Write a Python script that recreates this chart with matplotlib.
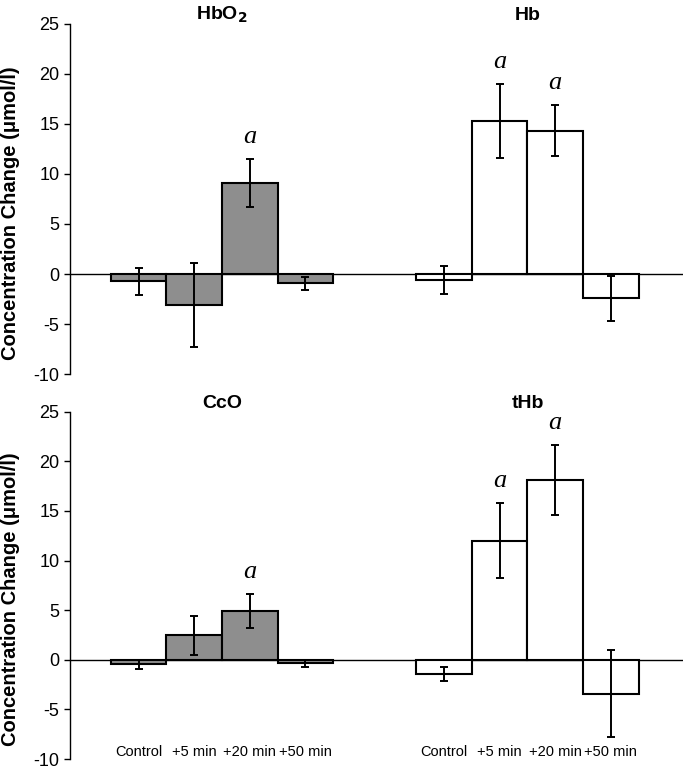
import numpy as np
import matplotlib
matplotlib.use('Agg')
import matplotlib.pyplot as plt
from matplotlib.transforms import blended_transform_factory

plt.rcParams['font.family'] = ['Liberation Sans', 'DejaVu Sans']
plt.rcParams['axes.unicode_minus'] = False

times = ['Control', '+5 min', '+20 min', '+50 min']

hbo2 = [-0.7, -3.1, 9.1, -0.9]
hbo2_err = [1.35, 4.2, 2.4, 0.65]
hb = [-0.6, 15.3, 14.3, -2.4]
hb_err = [1.4, 3.7, 2.55, 2.25]
cco = [-0.45, 2.45, 4.9, -0.35]
cco_err = [0.45, 2.0, 1.7, 0.35]
thb = [-1.45, 12.0, 18.1, -3.4]
thb_err = [0.7, 3.8, 3.55, 4.4]

# bars marked "a"
hbo2_sig = [2]
hb_sig = [1, 2]
cco_sig = [2]
thb_sig = [1, 2]

grey = '#8e8e8e'
pos_left = np.arange(4)
pos_right = np.arange(4) + 5.5


def draw_group(ax, pos, vals, errs, color, sig, title):
    ax.bar(pos, vals, width=1.0, color=color, edgecolor='black', linewidth=1.5, zorder=2)
    ax.errorbar(pos, vals, yerr=errs, fmt='none', ecolor='black', elinewidth=1.4,
                capsize=3, capthick=1.4, zorder=3)
    for i in sig:
        ax.annotate('a', (pos[i], vals[i] + errs[i]), xytext=(0, 8), textcoords='offset points',
                    ha='center', va='bottom', fontsize=19, style='italic',
                    family=['Liberation Serif', 'DejaVu Serif'])
    tr = blended_transform_factory(ax.transData, ax.transAxes)
    ax.text(pos.mean(), 1.025, title, transform=tr, ha='center', va='center',
            fontsize=14, fontweight='bold')


def setup(ax, show_labels):
    ax.set_xlim(-1.24, 9.8)
    ax.set_ylim(-10, 25)
    ax.set_yticks(np.arange(-10, 26, 5))
    ax.tick_params(axis='y', direction='out', length=4, labelsize=13, width=1)
    ax.set_xticks([])
    for s in ['top', 'right', 'bottom']:
        ax.spines[s].set_visible(False)
    ax.spines['left'].set_linewidth(1)
    ax.axhline(0, color='black', linewidth=1, zorder=1)
    ax.set_ylabel('Concentration Change (\u03bcmol/l)', fontsize=14.5, fontweight='bold')
    ax.yaxis.set_label_coords(-0.082, 0.46)
    if show_labels:
        for p, t in zip(np.concatenate([pos_left, pos_right]), times + times):
            ax.text(p, -10, t, ha='center', va='bottom', fontsize=10.5)


fig = plt.figure(figsize=(6.85, 7.72), dpi=100)
ax1 = fig.add_axes([0.102, 0.5155, 0.895, 0.4535])
ax2 = fig.add_axes([0.102, 0.0168, 0.895, 0.4499])

setup(ax1, False)
draw_group(ax1, pos_left, hbo2, hbo2_err, grey, hbo2_sig, 'HbO$_\\mathbf{2}$')
draw_group(ax1, pos_right, hb, hb_err, 'white', hb_sig, 'Hb')

setup(ax2, True)
draw_group(ax2, pos_left, cco, cco_err, grey, cco_sig, 'CcO')
draw_group(ax2, pos_right, thb, thb_err, 'white', thb_sig, 'tHb')

fig.savefig('out.png', dpi=100)
